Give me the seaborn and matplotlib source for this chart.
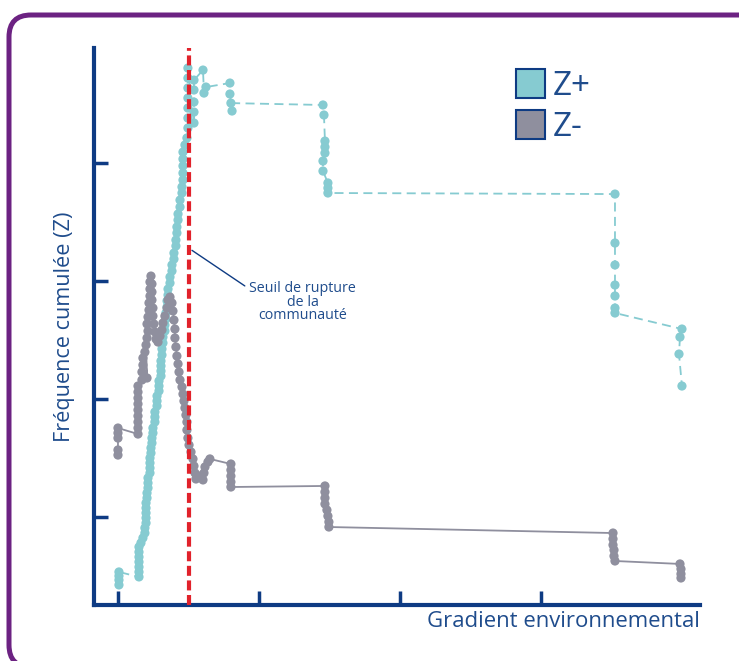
import matplotlib
matplotlib.use("Agg")
import matplotlib.pyplot as plt
from matplotlib.patches import FancyBboxPatch, Patch
from matplotlib.transforms import IdentityTransform
import pandas as pd
import seaborn as sns

# ---------------- data ----------------
zplus_x = [0.07, 0.07, 0.07, 0.07,
           1.49, 1.49, 1.49, 1.49, 1.49, 1.49, 1.49,
           1.63, 1.77, 1.91, 1.91, 1.99, 1.99, 1.99, 1.99, 1.99,
           2.06, 2.06, 2.13, 2.13, 2.13, 2.27, 2.27, 2.27, 2.27,
           2.34, 2.34, 2.41, 2.41, 2.48, 2.48, 2.62, 2.62, 2.62,
           2.77, 2.77, 2.77, 2.91, 2.91, 2.91, 3.05, 3.05, 3.05, 3.05,
           3.12, 3.12, 3.19, 3.19, 3.33, 3.33, 3.40, 3.40, 3.48, 3.48,
           3.55, 3.55, 3.69, 3.69, 3.83, 3.83, 3.97, 3.97, 4.11, 4.11,
           4.18, 4.18, 4.26, 4.26, 4.40, 4.40, 4.54, 4.54,
           4.61, 4.61, 4.61, 4.61, 4.61, 4.75, 4.89,
           4.96, 4.96, 4.96, 4.96, 4.96, 4.96, 4.96,
           5.39, 5.39, 5.39, 5.39, 5.39,
           6.03, 6.10, 6.24,
           7.94, 7.94, 8.09, 8.01,
           14.54, 14.61, 14.68, 14.68, 14.68, 14.54, 14.54, 14.89, 14.89, 14.89,
           35.25, 35.25, 35.25, 35.25, 35.25, 35.25, 35.25,
           40.00, 39.86, 39.79, 40.00]
zplus_y = [4.24, 4.66, 5.00, 5.34,
           4.92, 5.34, 5.76, 6.19, 6.61, 7.03, 7.46,
           7.80, 8.22, 8.64, 9.07, 9.49, 9.92, 10.34, 10.76, 11.19,
           11.61, 12.03, 12.46, 12.88, 13.31, 13.73, 14.15, 14.58, 15.00,
           15.42, 15.85, 16.27, 16.69, 17.12, 17.54, 18.05, 18.47, 18.90,
           19.41, 19.83, 20.25, 20.68, 21.10, 21.53, 21.95, 22.37, 22.80, 23.22,
           23.73, 24.24, 24.75, 25.25, 25.76, 26.27, 26.78, 27.29, 27.80, 28.31,
           28.81, 29.32, 29.83, 30.34, 30.85, 31.36, 31.86, 32.37, 32.97, 33.47,
           34.07, 34.58, 35.17, 35.68, 36.27, 36.86, 37.46, 37.97,
           38.56, 39.15, 39.75, 40.34, 40.93, 41.53, 42.12,
           42.97, 43.81, 44.66, 45.51, 46.36, 47.20, 48.05,
           43.39, 44.32, 45.17, 46.19, 47.03,
           47.88, 45.93, 46.44,
           46.78, 45.85, 44.41, 45.08,
           44.92, 44.07, 41.86, 41.36, 40.85, 40.17, 39.32, 38.31, 37.88, 37.46,
           37.37, 33.22, 31.36, 29.66, 28.73, 27.71, 27.29,
           25.93, 25.25, 23.81, 21.10]

zminus_x = [0.00, 0.00, 0.00, 0.00, 0.00,
            1.42, 1.42, 1.42, 1.42, 1.42, 1.42, 1.42, 1.42, 1.42,
            1.70, 1.70, 1.77, 1.77, 1.91, 2.06,
            1.99, 2.06, 2.13, 2.06, 2.13, 2.20, 2.20, 2.27, 2.27, 2.27, 2.34,
            2.41, 2.41, 2.41, 2.48, 2.48, 2.55, 2.62, 2.70, 2.84,
            2.98, 3.12, 3.19, 3.33, 3.48, 3.55, 3.69,
            3.83, 3.90, 3.97, 4.04, 4.04, 4.11, 4.18, 4.26, 4.33, 4.40,
            4.54, 4.61, 4.68, 4.75, 4.82, 4.89, 4.89, 4.96, 5.04,
            5.18, 5.32, 5.39, 5.46, 5.53, 5.82, 6.03, 6.10, 6.17, 6.38, 6.52,
            8.01, 8.01, 8.01, 8.01, 8.01,
            14.68, 14.68, 14.68, 14.68, 14.82, 14.89, 14.96, 14.96,
            35.11, 35.11, 35.11, 35.18, 35.18, 35.25,
            39.86, 39.93, 39.93, 39.93]
zminus_y = [15.25, 15.68, 16.69, 17.12, 17.54,
            17.03, 17.54, 18.05, 18.56, 19.07, 19.58, 20.08, 20.59, 21.10,
            21.61, 22.29, 22.88, 23.47, 23.98, 21.78,
            24.58, 25.17, 25.76, 26.36, 26.95, 27.54, 28.14, 28.73, 29.32, 29.92, 30.42,
            29.75, 29.07, 28.39, 27.71, 27.03, 26.36, 25.68, 25.08, 24.83,
            25.34, 25.85, 26.44, 27.03, 27.71, 28.39, 28.64,
            28.14, 27.46, 26.69, 25.93, 25.17, 24.41, 23.64, 22.97, 22.29, 21.61,
            21.02, 20.42, 19.83, 19.24, 18.64, 18.05, 17.37, 16.69, 16.10,
            15.51, 14.92, 14.32, 13.73, 13.22, 13.47, 13.14, 13.73, 14.24, 14.66, 14.92,
            14.49, 13.98, 13.47, 12.97, 12.54,
            12.63, 12.12, 11.61, 11.10, 10.59, 10.08, 9.58, 9.15,
            8.64, 8.14, 7.63, 7.20, 6.69, 6.27,
            6.02, 5.59, 5.17, 4.83]

series_labels = ["Z+", "Z-"]
threshold_x = 5.05
x_ticks = [0, 10, 20, 30]
y_ticks = [10, 20, 30, 40]

# ---------------- style ----------------
CYAN = "#86CBD1"
GRAY = "#8F8F9E"
NAVY = "#0E3B83"
TEXT = "#1F4C8C"
RED = "#E1222B"
PURPLE = "#6C2282"

sns.set_theme(style="white")
plt.rcParams["font.family"] = ["Open Sans", "DejaVu Sans"]

W, H = 739, 661
fig = plt.figure(figsize=(W / 100, H / 100), dpi=100)
fig.patch.set_facecolor("white")

# rounded purple frame
frame = FancyBboxPatch((9, -6), 800, (H - 15) + 6,
                       boxstyle="round,pad=0,rounding_size=22",
                       transform=IdentityTransform(), fill=False,
                       edgecolor=PURPLE, lw=3.6)
fig.patches.append(frame)

ax = fig.add_axes([94 / W, 1 - 605 / H, (700 - 94) / W, (605 - 48) / H])
ax.set_facecolor("none")

df_plus = pd.DataFrame({"x": zplus_x, "y": zplus_y})
df_minus = pd.DataFrame({"x": zminus_x, "y": zminus_y})

sns.lineplot(data=df_minus, x="x", y="y", sort=False, estimator=None,
             color=GRAY, lw=1.3, ax=ax, zorder=2)
sns.lineplot(data=df_plus, x="x", y="y", sort=False, estimator=None,
             color=CYAN, lw=1.3, ax=ax, zorder=2)
ax.lines[-1].set_linestyle((0, (5, 3)))

sns.scatterplot(data=df_plus, x="x", y="y", color=CYAN, s=44,
                edgecolor="none", ax=ax, zorder=3)
sns.scatterplot(data=df_minus, x="x", y="y", color=GRAY, s=44,
                edgecolor="none", ax=ax, zorder=3)

ax.axvline(threshold_x, color=RED, lw=3, dashes=(2.4, 1.1), zorder=4)

ax.annotate("Seuil de rupture\nde la\ncommunauté",
            xy=(5.25, 32.6), xytext=(13.1, 28.2),
            ha="center", va="center", fontsize=10.3, color=TEXT,
            linespacing=0.85,
            arrowprops=dict(arrowstyle="-", color=NAVY, lw=1.0,
                            shrinkA=1, shrinkB=0, relpos=(0, 0.82)))

ax.set_xlim(-1.70, 41.28)
ax.set_ylim(2.54, 49.75)
ax.set_xticks(x_ticks)
ax.set_yticks(y_ticks)
ax.tick_params(direction="in", length=10, width=2.5, color=NAVY,
               labelbottom=False, labelleft=False, bottom=True, left=True)
for side in ["top", "right"]:
    ax.spines[side].set_visible(False)
for side in ["left", "bottom"]:
    ax.spines[side].set_color(NAVY)
    ax.spines[side].set_linewidth(3)

ax.set_ylabel("Fréquence cumulée (Z)", fontsize=15.6, color=TEXT, labelpad=14)
ax.set_xlabel("Gradient environnemental", fontsize=15.9, color=TEXT,
              loc="right", labelpad=4)

handles = [Patch(facecolor=CYAN, edgecolor=NAVY, lw=1.5, label=series_labels[0]),
           Patch(facecolor=GRAY, edgecolor=NAVY, lw=1.5, label=series_labels[1])]
ax.legend(handles=handles, loc="upper left",
          bbox_to_anchor=((516 - 94) / 606, (605 - 69) / 557),
          frameon=False, fontsize=24, labelcolor=TEXT,
          handlelength=0.88, handleheight=0.97, handletextpad=0.22,
          labelspacing=0.2, borderpad=0, borderaxespad=0)

fig.savefig("out.png", dpi=100)
